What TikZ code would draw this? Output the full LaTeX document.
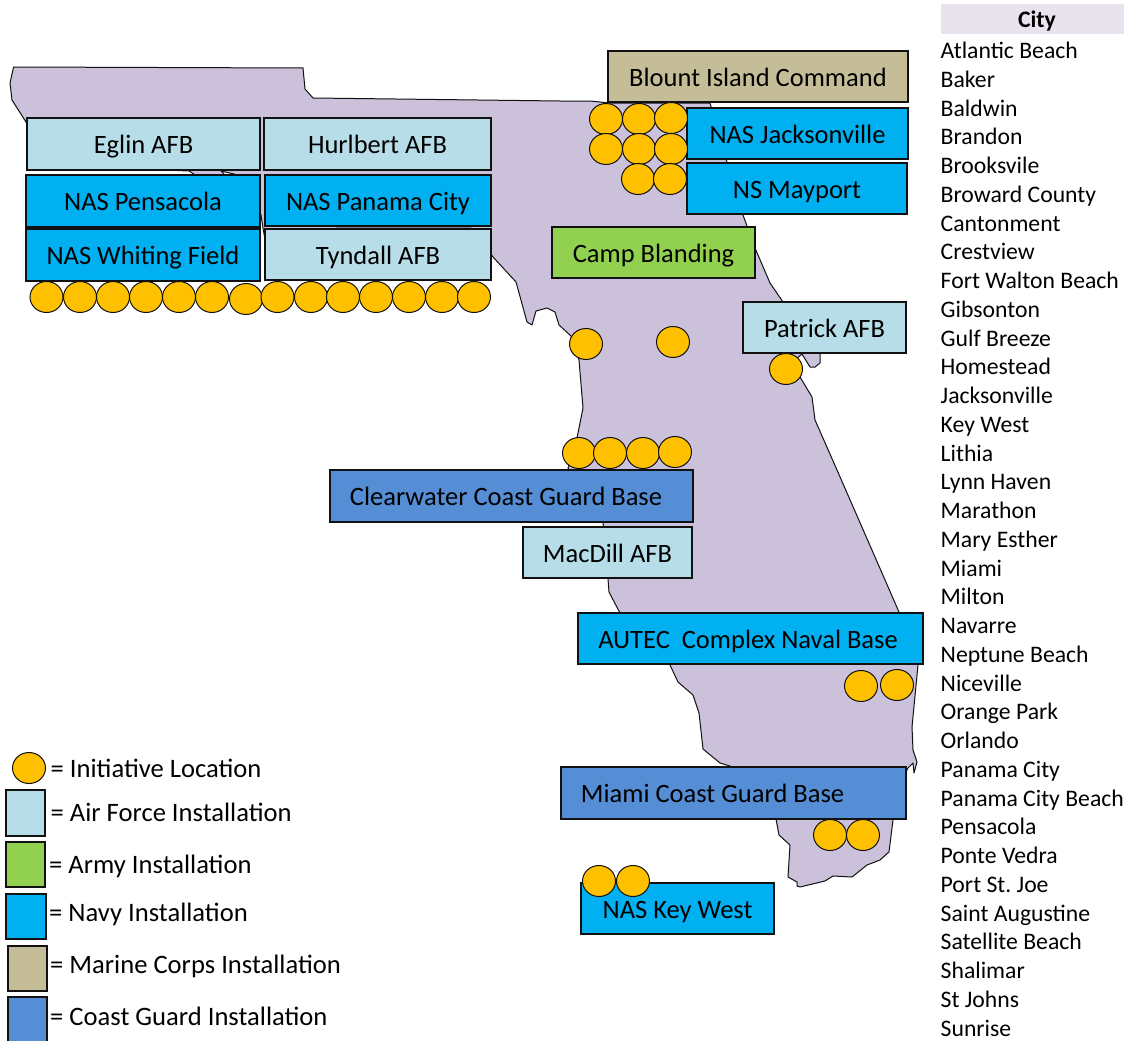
\documentclass[tikz,border=0pt]{standalone}
\usepackage{fontspec}
\setmainfont{Carlito}
\frenchspacing
\usetikzlibrary{shapes.geometric}
\definecolor{mapfill}{HTML}{CCC1DA}
\definecolor{afcol}{HTML}{B7DEE8}
\definecolor{armycol}{HTML}{92D050}
\definecolor{navycol}{HTML}{00B0F0}
\definecolor{marinecol}{HTML}{C4BD97}
\definecolor{cgcol}{HTML}{558ED5}
\definecolor{dotcol}{HTML}{FFC000}
\definecolor{headcol}{HTML}{E9E3EE}
\definecolor{edgecol}{HTML}{111111}
\tikzset{
  base/.style={draw=edgecol,line width=1.9pt,inner sep=0pt,outer sep=0pt,
    text height=19pt,text depth=0pt,font=\fontsize{26.5}{30}\selectfont,text=black},
  af/.style={base,fill=afcol},
  army/.style={base,fill=armycol},
  navy/.style={base,fill=navycol},
  marine/.style={base,fill=marinecol},
  cg/.style={base,fill=cgcol},
  dot/.style={ellipse,draw=edgecol,line width=1pt,fill=dotcol,minimum width=33pt,minimum height=31pt,inner sep=0pt},
  legtext/.style={anchor=base west,inner sep=0pt,font=\fontsize{26.6}{30}\selectfont},
  citytext/.style={anchor=base west,inner sep=0pt,font=\fontsize{23.7}{28}\selectfont},
  mapshape/.style={draw=edgecol,line width=1pt,fill=mapfill,line join=round}
}
% name, style, x1, y1, x2, y2, text
\newcommand{\instbox}[7]{%
  \node[#2,minimum width=#5pt-#3pt,minimum height=#6pt-#4pt] (#1) at ({(#3+#5)/2},{(#4+#6)/2}) {#7};}
\begin{document}
\begin{tikzpicture}[x=1pt,y=-1pt]
\useasboundingbox (0,0) rectangle (1124,1041);
% map of Florida
\draw[mapshape] (13.6,67) -- (303,68) -- (305,89) -- (313,98) -- (560,101) -- (590,101) -- (610,103)
 -- (710,103) -- (727,162) -- (743,215) -- (755,248) -- (770,283) -- (783,302)
 -- (818,345) -- (820,354) -- (820,363) -- (815,367) -- (810,367) -- (802,354) -- (795,360)
 -- (800,377) -- (812,397) -- (815,420) -- (837,470) -- (899,612)
 -- (918,665) -- (912,727) -- (913,750) -- (917,762) -- (914,773) -- (913,763) -- (908,768) -- (906,772)
 -- (893,820) -- (889,852) -- (880,860) -- (867,865) -- (852,877) -- (833,876) -- (825,881)
 -- (800,887) -- (797,886) -- (797,882) -- (788,877) -- (790,845) -- (779,835) -- (776,819)
 -- (730,766) -- (720,763) -- (703,749) -- (699,713) -- (693,695) -- (678,682) -- (670,665)
 -- (620,613) -- (609,592) -- (608,579) -- (603,522) -- (568,468) -- (577,438) -- (583,408)
 -- (579,360) -- (571,336) -- (559,325) -- (555,312) -- (547,308) -- (536,311) -- (532,325)
 -- (527,322) -- (516,282) -- (493,257) -- (475,232) -- (471,228) -- (337,228) -- (300,250)
 -- (266,245) -- (263,228) -- (261,215) -- (240,176) -- (236,174.5) -- (221,171) -- (226,176)
 -- (197,176) -- (189,171) -- (40,165)
 -- (26,122) -- (12,100) -- (10,83) -- cycle;
% installations
\instbox{eglin}{af}{27}{118}{260}{170}{Eglin AFB}
\instbox{hurlbert}{af}{264}{118}{491}{170}{Hurlbert AFB}
\instbox{pensacola}{navy}{26}{175}{260}{227}{NAS Pensacola}
\instbox{panama}{navy}{265}{175}{491}{226}{NAS Panama City}
\instbox{whiting}{navy}{26}{229}{260}{281}{NAS Whiting Field}
\instbox{tyndall}{af}{265}{229}{491}{280}{Tyndall AFB}
\instbox{blount}{marine}{608}{51}{908}{102}{Blount Island Command}
\instbox{jax}{navy}{687}{108}{908}{159}{NAS Jacksonville}
\instbox{mayport}{navy}{687}{163}{907}{214}{NS Mayport}
\instbox{blanding}{army}{552}{227}{755}{278}{Camp Blanding}
\instbox{patrick}{af}{743}{302}{906}{353}{Patrick AFB}
\instbox{clearwater}{cg}{330}{470}{693}{522}{Clearwater Coast Guard Base\hspace*{11pt}}
\instbox{macdill}{af}{523}{527}{692}{578}{MacDill AFB}
\instbox{autec}{navy}{578}{613}{923}{664}{AUTEC\ \ Complex Naval Base\hspace*{5pt}}
\instbox{miami}{cg}{561}{767}{906}{819}{Miami Coast Guard Base\hspace*{42pt}}
\instbox{keywest}{navy}{581}{883}{774}{934}{NAS Key West}
% initiative locations
\foreach \px/\py [count=\i] in {46.5/297,80/297,113/297,146/297,179/297,212/297,246/299,277.5/297,311/297,343/297,376/297,409/297,442/297,474/297,
  606/119,639/119,671/118,606/149,639/149,671/149,638/179,670/179,
  586/344,673/342,786/369,
  579/453,610/453,643/453,675/452,
  861/686,897/685,830/835,863/835,599/881,633/881}
  \node[dot] (dot\i) at (\px,\py) {};
% legend
\node[dot] (legdot) at (29,768) {};
\node[af,minimum width=39pt,minimum height=46pt] (legaf) at (25.5,813) {};
\node[army,minimum width=39pt,minimum height=45pt] (legarmy) at (25.5,864.5) {};
\node[navy,minimum width=40pt,minimum height=45pt] (legnavy) at (26,916.5) {};
\node[marine,minimum width=39pt,minimum height=45pt] (legmarine) at (27.5,968.5) {};
\node[cg,minimum width=39pt,minimum height=46pt] (legcg) at (27.5,1020) {};
\node[legtext] (t1) at (50.5,777.7) {= Initiative Location};
\node[legtext] (t2) at (50.5,821.7) {= Air Force Installation};
\node[legtext] (t3) at (49,873.7) {= Army Installation};
\node[legtext] (t4) at (49,921.7) {= Navy Installation};
\node[legtext] (t5) at (50,973) {= Marine Corps Installation};
\node[legtext] (t6) at (50,1025) {= Coast Guard Installation};
% city list
\node[fill=headcol,minimum width=183pt,minimum height=30pt,inner sep=0pt] (cityhead) at (1032.5,19) {};
\node[anchor=base,inner sep=0pt,font=\fontsize{23.7}{28}\selectfont\bfseries] (citytitle) at (1037,28) {City};
\foreach \c [count=\i from 0] in {Atlantic Beach,Baker,Baldwin,Brandon,Brooksvile,Broward County,Cantonment,Crestview,Fort Walton Beach,Gibsonton,Gulf Breeze,Homestead,Jacksonville,Key West,Lithia,Lynn Haven,Marathon,Mary Esther,Miami,Milton,Navarre,Neptune Beach,Niceville,Orange Park,Orlando,Panama City,Panama City Beach,Pensacola,Ponte Vedra,Port St. Joe,Saint Augustine,Satellite Beach,Shalimar,St Johns,Sunrise}
  \node[citytext] (city\i) at (940.5,{58.6+\i*28.75}) {\c};
\end{tikzpicture}
\end{document}
